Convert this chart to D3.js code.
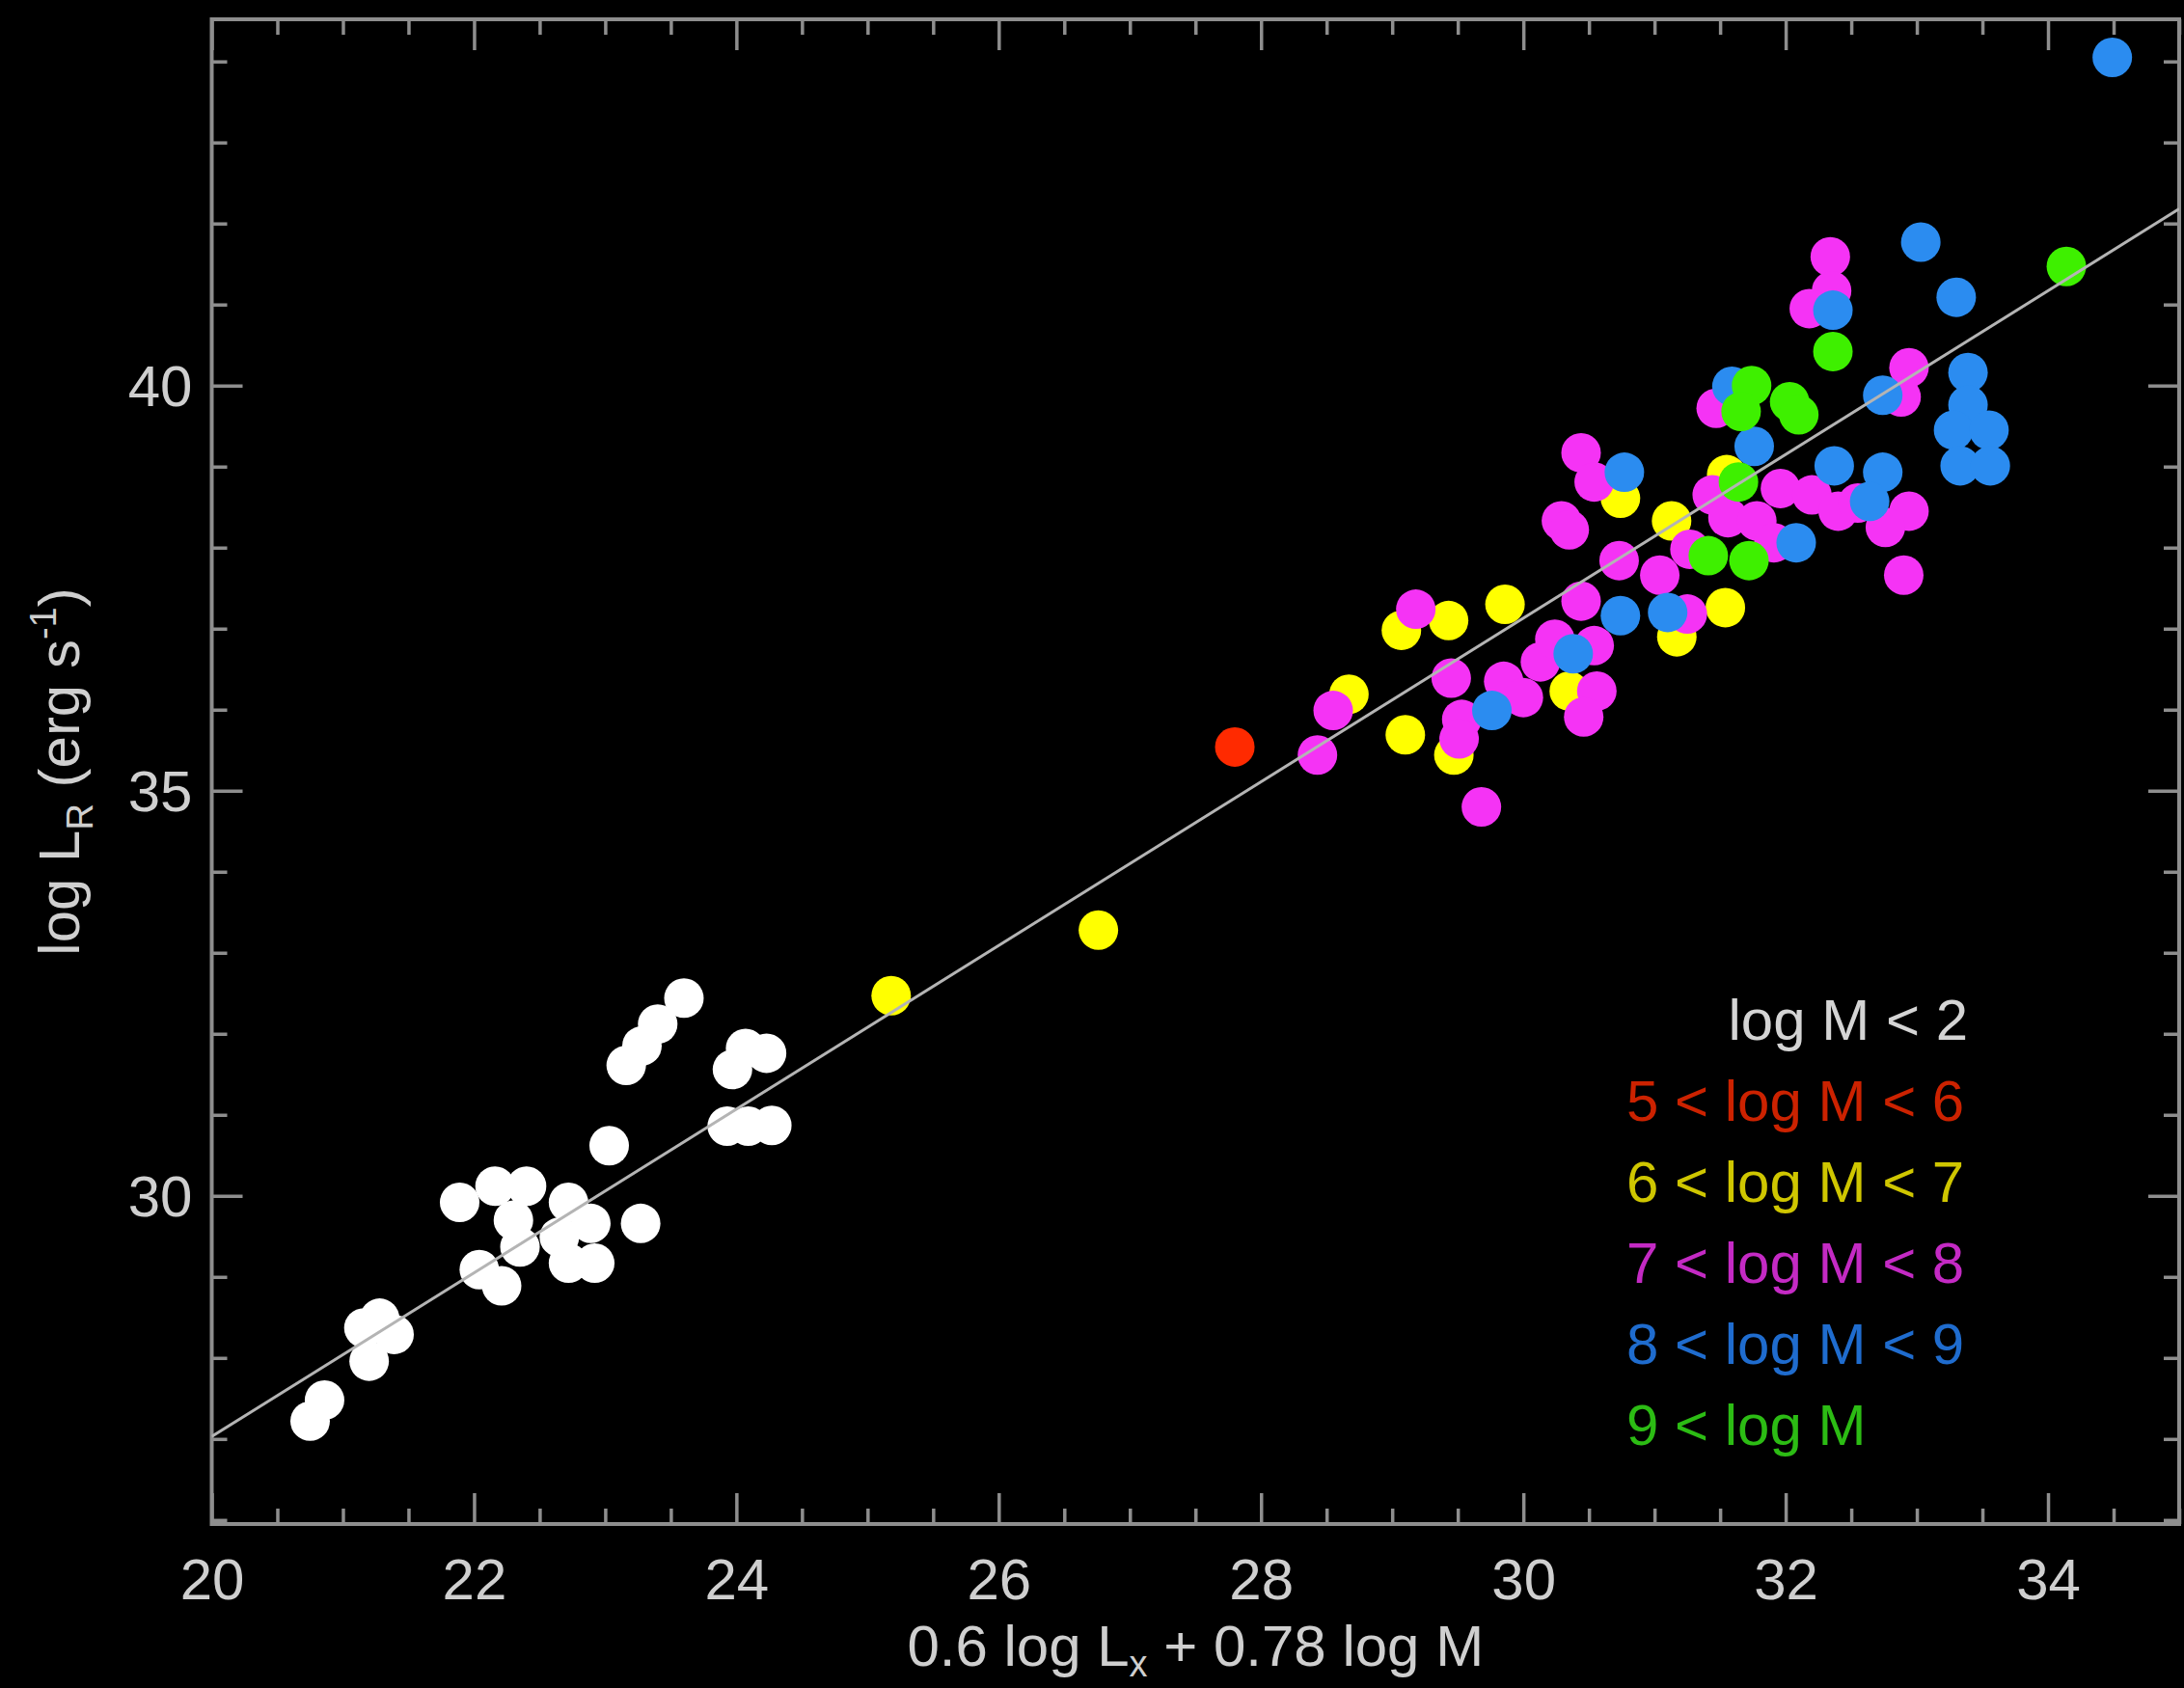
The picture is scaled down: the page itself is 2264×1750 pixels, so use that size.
<!DOCTYPE html>
<html>
<head>
<meta charset="utf-8">
<script src="https://cdn.jsdelivr.net/npm/d3@7"></script>
<style>
  html, body { margin: 0; padding: 0; background: #000; }
  svg { display: block; }
</style>
</head>
<body>
<svg id="chart" width="2264" height="1750"></svg>
<script>
// Fundamental-plane scatter: radio luminosity vs. 0.6 log Lx + 0.78 log M,
// points coloured by black-hole mass bin, with the best-fit relation overlaid.

// ---- data: [0.6 log Lx + 0.78 log M, log L_R] per mass bin ----
const massBelow2 = [
  [20.75, 27.22], [20.86, 27.48],
  [21.20, 27.96], [21.16, 28.37], [21.28, 28.49], [21.39, 28.29],
  [22.04, 29.09], [22.21, 28.89],
  [21.89, 29.92], [22.16, 30.12], [22.40, 30.12], [22.30, 29.70], [22.35, 29.37],
  [22.65, 29.49], [22.72, 29.92], [22.89, 29.66], [22.72, 29.17], [22.92, 29.17],
  [23.27, 29.66], [23.03, 30.62],
  [23.16, 31.61], [23.28, 31.85], [23.40, 32.12], [23.60, 32.44],
  [23.97, 31.56], [24.07, 31.82], [24.23, 31.76],
  [23.93, 30.86], [24.09, 30.86], [24.27, 30.87]
];
const mass5to6 = [
  [27.80, 35.54]
];
const mass6to7 = [
  [25.18, 32.47], [26.76, 33.28],
  [28.67, 36.19], [29.10, 35.69], [29.07, 36.98], [29.43, 37.10], [29.86, 37.30],
  [29.47, 35.44], [30.35, 36.23], [31.17, 36.90], [31.13, 38.33], [30.74, 38.61],
  [31.54, 37.26], [31.55, 38.90]
];
const mass7to8 = [
  [28.43, 35.44], [28.55, 35.99], [29.18, 37.24], [29.45, 36.39], [29.53, 35.88],
  [29.51, 35.64], [29.68, 34.80], [29.85, 36.35], [30.00, 36.15], [30.13, 36.59],
  [30.24, 36.87], [30.54, 36.79], [30.56, 36.23], [30.46, 35.91], [30.44, 37.34],
  [30.73, 37.84], [31.04, 37.66], [31.25, 37.18], [31.27, 37.98],
  [30.44, 39.17], [30.54, 38.81], [30.29, 38.33], [30.35, 38.22],
  [32.34, 41.59], [32.35, 41.17], [32.18, 40.95], [32.94, 40.22], [32.88, 39.86],
  [31.47, 39.72], [31.44, 38.65], [31.96, 38.73], [32.20, 38.65], [32.40, 38.45],
  [32.55, 38.55], [31.56, 38.37], [31.78, 38.33], [32.94, 38.45], [32.76, 38.25],
  [31.91, 38.06], [32.90, 37.66]
];
const mass8to9 = [
  [29.76, 35.99], [30.38, 36.69], [30.74, 37.16], [31.10, 37.20], [30.77, 38.93],
  [33.03, 41.77], [32.36, 40.93], [33.30, 41.09], [32.74, 39.88], [33.39, 40.16],
  [33.39, 39.76], [33.28, 39.45], [33.55, 39.45], [33.33, 39.01], [33.56, 39.01],
  [31.59, 39.99], [31.76, 39.25], [32.37, 39.01], [32.74, 38.93], [32.64, 38.57],
  [32.08, 38.06], [34.49, 44.05]
];
const massAbove9 = [
  [34.14, 41.47], [32.36, 40.42], [31.74, 40.00], [31.66, 39.68], [32.03, 39.80],
  [32.10, 39.64], [31.64, 38.81], [31.41, 37.90], [31.72, 37.84]
];

const binLabels = ["log M < 2", "5 < log M < 6", "6 < log M < 7",
                   "7 < log M < 8", "8 < log M < 9", "9 < log M"];
const binSeries = [massBelow2, mass5to6, mass6to7, mass7to8, mass8to9, massAbove9];
const markerColors = ["#ffffff", "#ff2a00", "#ffff00", "#f533f5", "#2b8cf0", "#3ef000"];
const labelColors  = ["#d4d4d4", "#cc2200", "#cfc600", "#c42ac4", "#1f6cce", "#2cbc14"];

// best-fit relation log L_R = slope * x + intercept
const fitSlope = 1.01;
const fitIntercept = 6.83;

// axis ranges and ticks
const xDomain = [20, 35];
const yDomain = [25.95, 44.52];
const xMajorTicks = [20, 22, 24, 26, 28, 30, 32, 34];
const yMajorTicks = [30, 35, 40];

// ---- layout ----
const plot = { left: 219.5, right: 2259, top: 20, bottom: 1580 };
const fontFamily = "'Liberation Sans', Arial, Helvetica, sans-serif";
const fontSize = 60;
const axisColor = "#8e8e8e";
const textColor = "#cfcfcf";
const majorLen = 32, minorLen = 16;
const markerR = 20.5;

const svg = d3.select("#chart");
svg.append("rect").attr("width", 2264).attr("height", 1750).attr("fill", "#000");

const x = d3.scaleLinear().domain(xDomain).range([plot.left, plot.right]);
const y = d3.scaleLinear().domain(yDomain).range([plot.bottom, plot.top]);

const xMinor = d3.range(20, 35.001, 0.5).filter(v => !xMajorTicks.includes(v));
const yMinor = d3.range(26, 44.001, 1).filter(v => !yMajorTicks.includes(v));

function styleAxis(g) {
  g.select(".domain").remove();
  g.selectAll(".tick line").attr("stroke", axisColor).attr("stroke-width", 3.5);
  g.selectAll(".tick text")
    .attr("fill", textColor)
    .style("font-family", fontFamily)
    .style("font-size", fontSize + "px");
}

// bottom axis: labelled majors and minors, ticks pointing inward
svg.append("g").attr("transform", `translate(0,${plot.bottom})`)
  .call(d3.axisBottom(x).tickValues(xMajorTicks).tickSize(-majorLen).tickPadding(35).tickFormat(d3.format("d")))
  .call(styleAxis)
  .call(g => g.selectAll(".tick text").attr("y", 35));
svg.append("g").attr("transform", `translate(0,${plot.bottom})`)
  .call(d3.axisBottom(x).tickValues(xMinor).tickSize(-minorLen).tickFormat(""))
  .call(styleAxis);

// top axis: mirrored ticks, no labels
svg.append("g").attr("transform", `translate(0,${plot.top})`)
  .call(d3.axisTop(x).tickValues(xMajorTicks).tickSize(-majorLen).tickFormat(""))
  .call(styleAxis);
svg.append("g").attr("transform", `translate(0,${plot.top})`)
  .call(d3.axisTop(x).tickValues(xMinor).tickSize(-minorLen).tickFormat(""))
  .call(styleAxis);

// left axis
svg.append("g").attr("transform", `translate(${plot.left},0)`)
  .call(d3.axisLeft(y).tickValues(yMajorTicks).tickSize(-majorLen).tickPadding(20).tickFormat(d3.format("d")))
  .call(styleAxis)
  .call(g => g.selectAll(".tick text").attr("x", -20).attr("dy", "0.35em"));
svg.append("g").attr("transform", `translate(${plot.left},0)`)
  .call(d3.axisLeft(y).tickValues(yMinor).tickSize(-minorLen).tickFormat(""))
  .call(styleAxis);

// right axis: mirrored ticks, no labels
svg.append("g").attr("transform", `translate(${plot.right},0)`)
  .call(d3.axisRight(y).tickValues(yMajorTicks).tickSize(-majorLen).tickFormat(""))
  .call(styleAxis);
svg.append("g").attr("transform", `translate(${plot.right},0)`)
  .call(d3.axisRight(y).tickValues(yMinor).tickSize(-minorLen).tickFormat(""))
  .call(styleAxis);

// plot frame
svg.append("rect")
  .attr("x", plot.left).attr("y", plot.top)
  .attr("width", plot.right - plot.left).attr("height", plot.bottom - plot.top)
  .attr("fill", "none").attr("stroke", axisColor).attr("stroke-width", 4);

// clip for data marks
svg.append("clipPath").attr("id", "plot-clip")
  .append("rect")
  .attr("x", plot.left).attr("y", plot.top)
  .attr("width", plot.right - plot.left).attr("height", plot.bottom - plot.top);

const dataLayer = svg.append("g").attr("clip-path", "url(#plot-clip)");

// points, lowest mass bin first so heavier bins sit on top
binSeries.forEach((series, i) => {
  dataLayer.append("g")
    .selectAll("circle")
    .data(series)
    .join("circle")
    .attr("cx", d => x(d[0]))
    .attr("cy", d => y(d[1]))
    .attr("r", markerR)
    .attr("fill", markerColors[i]);
});

// best-fit line across the full x range
const fitLine = d3.line().x(d => x(d)).y(d => y(fitSlope * d + fitIntercept));
dataLayer.append("path")
  .datum(xDomain)
  .attr("d", fitLine)
  .attr("fill", "none")
  .attr("stroke", "#b4b4b4")
  .attr("stroke-width", 3);

// legend
const legendLeft = 1686, legendRight = 2040, legendTop = 1078, legendStep = 84;
const legend = svg.append("g")
  .style("font-family", fontFamily)
  .style("font-size", fontSize + "px");
binLabels.forEach((label, i) => {
  legend.append("text")
    .attr("x", i === 0 ? legendRight : legendLeft)
    .attr("y", legendTop + i * legendStep)
    .attr("text-anchor", i === 0 ? "end" : "start")
    .attr("fill", labelColors[i])
    .text(label);
});

// x-axis title
const xTitle = svg.append("text")
  .attr("x", (plot.left + plot.right) / 2)
  .attr("y", 1727)
  .attr("text-anchor", "middle")
  .attr("fill", textColor)
  .style("font-family", fontFamily)
  .style("font-size", fontSize + "px");
xTitle.append("tspan").text("0.6 log L");
xTitle.append("tspan").attr("dy", 11).style("font-size", "38px").text("x");
xTitle.append("tspan").attr("dy", -11).text(" + 0.78 log M");

// y-axis title
const yTitle = svg.append("text")
  .attr("transform", `translate(82,${(plot.top + plot.bottom) / 2}) rotate(-90)`)
  .attr("text-anchor", "middle")
  .attr("fill", textColor)
  .style("font-family", fontFamily)
  .style("font-size", fontSize + "px");
yTitle.append("tspan").text("log L");
yTitle.append("tspan").attr("dy", 14).style("font-size", "38px").text("R");
yTitle.append("tspan").attr("dy", -14).text(" (erg s");
yTitle.append("tspan").attr("dy", -24).style("font-size", "38px").text("-1");
yTitle.append("tspan").attr("dy", 24).text(")");
</script>
</body>
</html>
